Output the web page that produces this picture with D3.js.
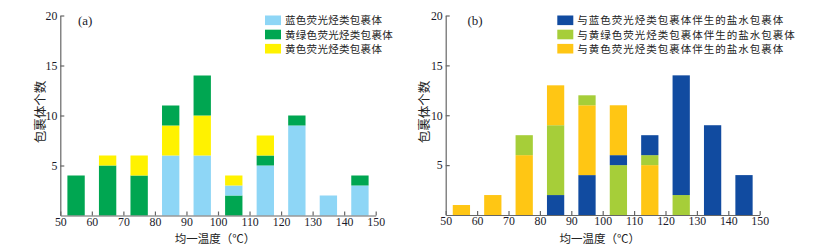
<!DOCTYPE html>
<html>
<head>
<meta charset="utf-8">
<script src="https://cdn.jsdelivr.net/npm/d3@7/dist/d3.min.js"></script>
<style>
  body { margin: 0; background: #fff; }
  svg { display: block; }
</style>
</head>
<body>
<svg id="chart" width="828" height="245"></svg>
<script>
// ---------- DATA ----------
const binCenters = [55, 65, 75, 85, 95, 105, 115, 125, 135, 145];
const xTickValues = [50, 60, 70, 80, 90, 100, 110, 120, 130, 140, 150];
const yTickValues = [5, 10, 15, 20];

// Panel (a): hydrocarbon inclusions by fluorescence colour
const aBlue   = [0, 0, 0, 6, 6, 1, 5, 9, 2, 3];
const aGreen  = [4, 5, 4, 2, 4, 2, 1, 1, 0, 1];
const aYellow = [0, 1, 2, 3, 4, 1, 2, 0, 0, 0];
// stacking order (bottom -> top) per bin
const aOrder = [
  ["g"], ["g", "y"], ["g", "y"], ["b", "y", "g"], ["b", "y", "g"],
  ["g", "b", "y"], ["b", "g", "y"], ["b", "g"], ["b"], ["b", "g"]
];
const aNames = ["蓝色荧光烃类包裹体", "黄绿色荧光烃类包裹体", "黄色荧光烃类包裹体"];

// Panel (b): associated aqueous inclusions
const bBlue   = [0, 0, 0, 2, 4, 1, 2, 12, 9, 4];
const bGreen  = [0, 0, 2, 7, 1, 5, 1, 2, 0, 0];
const bYellow = [1, 2, 6, 4, 7, 5, 5, 0, 0, 0];
const bOrder = [
  ["y"], ["y"], ["y", "g"], ["b", "g", "y"], ["b", "y", "g"],
  ["g", "b", "y"], ["y", "g", "b"], ["g", "b"], ["b"], ["b"]
];
const bNames = [
  "与蓝色荧光烃类包裹体伴生的盐水包裹体",
  "与黄绿色荧光烃类包裹体伴生的盐水包裹体",
  "与黄色荧光烃类包裹体伴生的盐水包裹体"
];

const xLabel = "均一温度（℃）";
const yLabel = "包裹体个数";

// ---------- DRAW ----------
const svg = d3.select("#chart");
const serif = "'Liberation Serif', 'DejaVu Serif', serif";
const cjk = "'Noto Sans CJK SC', sans-serif";

function panel(opts) {
  const x = d3.scaleLinear().domain([50, 150]).range([opts.x0, opts.x1]);
  const y = d3.scaleLinear().domain([0, 20]).range([opts.y0, opts.y1]);
  const g = svg.append("g");
  const series = { b: opts.blue, g: opts.green, y: opts.yellow };
  const colors = opts.colors;
  const barW = (x(60) - x(50)) * 0.55;

  binCenters.forEach((c, i) => {
    let cum = 0;
    opts.order[i].forEach(k => {
      const v = series[k][i];
      if (v <= 0) return;
      g.append("rect")
        .attr("x", x(c) - barW / 2)
        .attr("width", barW)
        .attr("y", y(cum + v))
        .attr("height", y(cum) - y(cum + v))
        .attr("fill", colors[k]);
      cum += v;
    });
  });

  const axisColor = "#666";
  const xa = g.append("g")
    .attr("transform", `translate(0,${opts.y0})`)
    .call(d3.axisBottom(x).tickValues(xTickValues).tickSize(-4).tickSizeOuter(0).tickPadding(2).tickFormat(d3.format("d")));
  const ya = g.append("g")
    .attr("transform", `translate(${opts.x0},0)`)
    .call(d3.axisLeft(y).tickValues(yTickValues).tickSize(-4).tickSizeOuter(0).tickPadding(3));
  [xa, ya].forEach(a => {
    a.selectAll("path,line").attr("stroke", axisColor).attr("stroke-width", 1.2);
    a.selectAll("text").attr("fill", "#1a1a2a").style("font-family", serif).style("font-size", "11.8px");
  });

  // panel label
  g.append("text").attr("x", opts.labelX).attr("y", 25)
    .style("font-family", serif).style("font-size", "13px").attr("fill", "#1a1a2a")
    .text(opts.label);

  // legend
  const keys = ["b", "g", "y"];
  keys.forEach((k, i) => {
    const cy = 20.3 + i * 14.2;
    g.append("rect").attr("x", opts.legX).attr("y", cy - 4.8).attr("width", 16).attr("height", 9.6)
      .attr("fill", colors[k]);
    g.append("text").attr("x", opts.legX + 20).attr("y", cy + 4)
      .style("font-family", cjk).style("font-size", opts.legFont + "px")
      .style("letter-spacing", opts.legSpacing + "px")
      .attr("fill", "#222").text(opts.names[i]);
  });

  // axis titles
  g.append("text")
    .attr("x", (opts.x0 + opts.x1) / 2 - 3).attr("y", 243)
    .attr("text-anchor", "middle")
    .style("font-family", cjk).style("font-size", "11.5px").attr("fill", "#222")
    .text(xLabel);
  g.append("text")
    .attr("transform", `translate(${opts.yLabX},112) rotate(-90)`)
    .attr("text-anchor", "middle")
    .style("font-family", cjk).style("font-size", "12.5px").attr("fill", "#222")
    .text(yLabel);
}

panel({
  x0: 60.3, x1: 375.7, y0: 215.5, y1: 15.5,
  blue: aBlue, green: aGreen, yellow: aYellow, order: aOrder, names: aNames,
  colors: { b: "#8ed6f6", g: "#00a651", y: "#fff200" },
  label: "(a)", labelX: 78, legX: 265, legFont: 10.5, legSpacing: 0.3, yLabX: 45
});
panel({
  x0: 445.7, x1: 759.7, y0: 215, y1: 15.5,
  blue: bBlue, green: bGreen, yellow: bYellow, order: bOrder, names: bNames,
  colors: { b: "#114ba0", g: "#a6ce39", y: "#ffc614" },
  label: "(b)", labelX: 467.5, legX: 557.3, legFont: 10.5, legSpacing: 1, yLabX: 429
});
</script>
</body>
</html>
